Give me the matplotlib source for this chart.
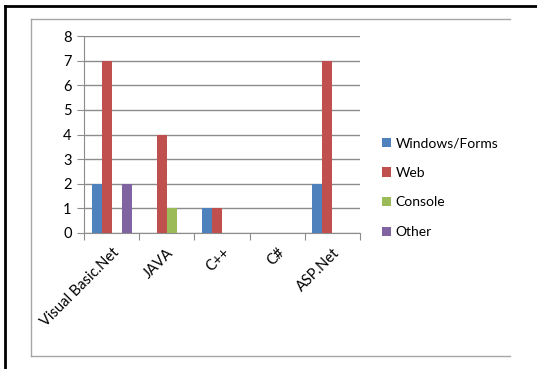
import numpy as np
import matplotlib
matplotlib.use('Agg')
import matplotlib.pyplot as plt
from matplotlib.lines import Line2D

categories = ['Visual Basic.Net', 'JAVA', 'C++', 'C#', 'ASP.Net']
series_names = ['Windows/Forms', 'Web', 'Console', 'Other']
windows_forms = [2, 0, 1, 0, 2]
web = [7, 4, 1, 0, 7]
console = [0, 1, 0, 0, 0]
other = [2, 0, 0, 0, 0]
colors = ['#4F81BD', '#C0504D', '#9BBB59', '#8064A2']

plt.rcParams['font.family'] = ['Lato', 'DejaVu Sans']

W, H = 537, 369
fig = plt.figure(figsize=(W / 100, H / 100), dpi=100)

# outer black border (left + top) and grey chart frame
def px_line(x0, y0, x1, y1, **kw):
    fig.add_artist(Line2D([x0 / W, x1 / W], [1 - y0 / H, 1 - y1 / H],
                          transform=fig.transFigure, **kw))

px_line(5, 6, W, 6, color='black', lw=2)
px_line(5, 6, 5, H, color='black', lw=2)
px_line(31, 19, 510, 19, color='#A6A6A6', lw=1)
px_line(31, 19, 31, 356, color='#A6A6A6', lw=1)
px_line(31, 356, 510, 356, color='#A6A6A6', lw=1)

ax = fig.add_axes([84 / W, 1 - 233 / H, (360 - 84) / W, (233 - 36) / H])

data = [windows_forms, web, console, other]
x = np.arange(len(categories))
bw = 1 / (len(series_names) + 1.5)
for i, (name, vals) in enumerate(zip(series_names, data)):
    ax.bar(x + (i - 1.5) * bw, vals, bw, color=colors[i], label=name, zorder=3)

ax.set_xlim(-0.5, len(categories) - 0.5)
ax.set_ylim(0, 8)
ax.set_yticks(range(0, 9))
ax.yaxis.grid(True, color='#8C8C8C', lw=1, zorder=0)
for s in ['top', 'right']:
    ax.spines[s].set_visible(False)
ax.spines['left'].set_color('#8C8C8C')
ax.spines['bottom'].set_color('#8C8C8C')

ax.set_xticks(np.arange(-0.5, len(categories)), minor=False)
ax.set_xticklabels([])
ax.set_xticks(x, minor=True)
ax.set_xticklabels(categories, minor=True, rotation=45, ha='right', va='top',
                   rotation_mode='anchor', fontsize=10.5)
ax.tick_params(axis='x', which='major', length=5, color='#8C8C8C', direction='out')
ax.tick_params(axis='x', which='minor', length=0, pad=9)
ax.tick_params(axis='y', length=5, color='#8C8C8C', labelsize=10.5, pad=4)

leg = ax.legend(loc='upper left', bbox_to_anchor=(1.035, 0.55), frameon=False,
                fontsize=10, handlelength=0.65, handleheight=0.65,
                handletextpad=0.3, labelspacing=1.27)

fig.savefig('out.png', dpi=100)
